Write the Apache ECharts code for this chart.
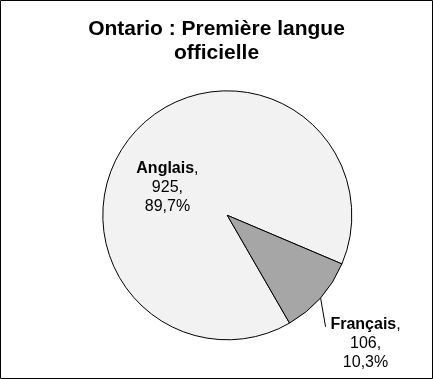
<!DOCTYPE html>
<html>
<head>
<meta charset="utf-8">
<script src="https://cdn.jsdelivr.net/npm/echarts@6/dist/echarts.min.js"></script>
<style>
html,body{margin:0;padding:0;background:#fff;}
#chart{width:433px;height:379px;}
</style>
</head>
<body>
<div id="chart"></div>
<script>
var titleText = 'Ontario : Première langue\nofficielle';
var categories = ['Anglais', 'Français'];
var values = [925, 106];
var colors = ['#f2f2f2', '#a6a6a6'];

var total = values.reduce(function (a, b) { return a + b; }, 0);
var FONT = '"Liberation Sans", Arial, sans-serif';

var chart = echarts.init(document.getElementById('chart'), null, {renderer: 'canvas'});

var data = categories.map(function (c, i) {
  var item = {name: c, value: values[i], itemStyle: {color: colors[i]}};
  if (i === 0) {
    item.label = {position: 'inside', offset: [-11, 16]};
    item.labelLine = {show: false};
  }
  return item;
});

chart.setOption({
  animation: false,
  backgroundColor: '#fff',
  title: {
    text: titleText,
    left: 'center',
    top: 17,
    padding: 0,
    textStyle: {fontFamily: FONT, fontSize: 21, fontWeight: 'bold', color: '#000', lineHeight: 24, align: 'center'}
  },
  graphic: [{
    type: 'rect',
    shape: {x: 0.5, y: 0.5, width: 432, height: 378},
    style: {fill: 'none', stroke: '#000', lineWidth: 1},
    silent: true,
    z: 100
  }],
  series: [{
    type: 'pie',
    center: [227.3, 215.3],
    radius: [0, 124.5],
    startAngle: -60,
    clockwise: true,
    avoidLabelOverlap: false,
    itemStyle: {borderColor: '#000', borderWidth: 1},
    emphasis: {disabled: true},
    label: {
      show: true,
      position: 'outside',
      color: '#000',
      fontFamily: FONT,
      fontSize: 16,
      lineHeight: 19,
      align: 'center',
      formatter: function (p) {
        var pct = (p.value / total * 100).toFixed(1).replace('.', ',');
        return '{b|' + p.name + '},\n' + p.value + ',\n' + pct + '%';
      },
      rich: {
        b: {fontFamily: FONT, fontSize: 16, fontWeight: 'bold', color: '#000', lineHeight: 19}
      }
    },
    labelLine: {show: true, length: 10, length2: 0, lineStyle: {color: '#000', width: 1}},
    labelLayout: function (params) {
      if (params.dataIndex !== 1 || !params.labelLinePoints) return {};
      var p0 = params.labelLinePoints[0];
      return {
        x: p0[0] + 45,
        y: p0[1] + 45.5,
        align: 'center',
        verticalAlign: 'middle',
        labelLinePoints: [[p0[0], p0[1]], [p0[0] + 5, p0[1] + 29]]
      };
    },
    data: data
  }]
});
</script>
</body>
</html>
